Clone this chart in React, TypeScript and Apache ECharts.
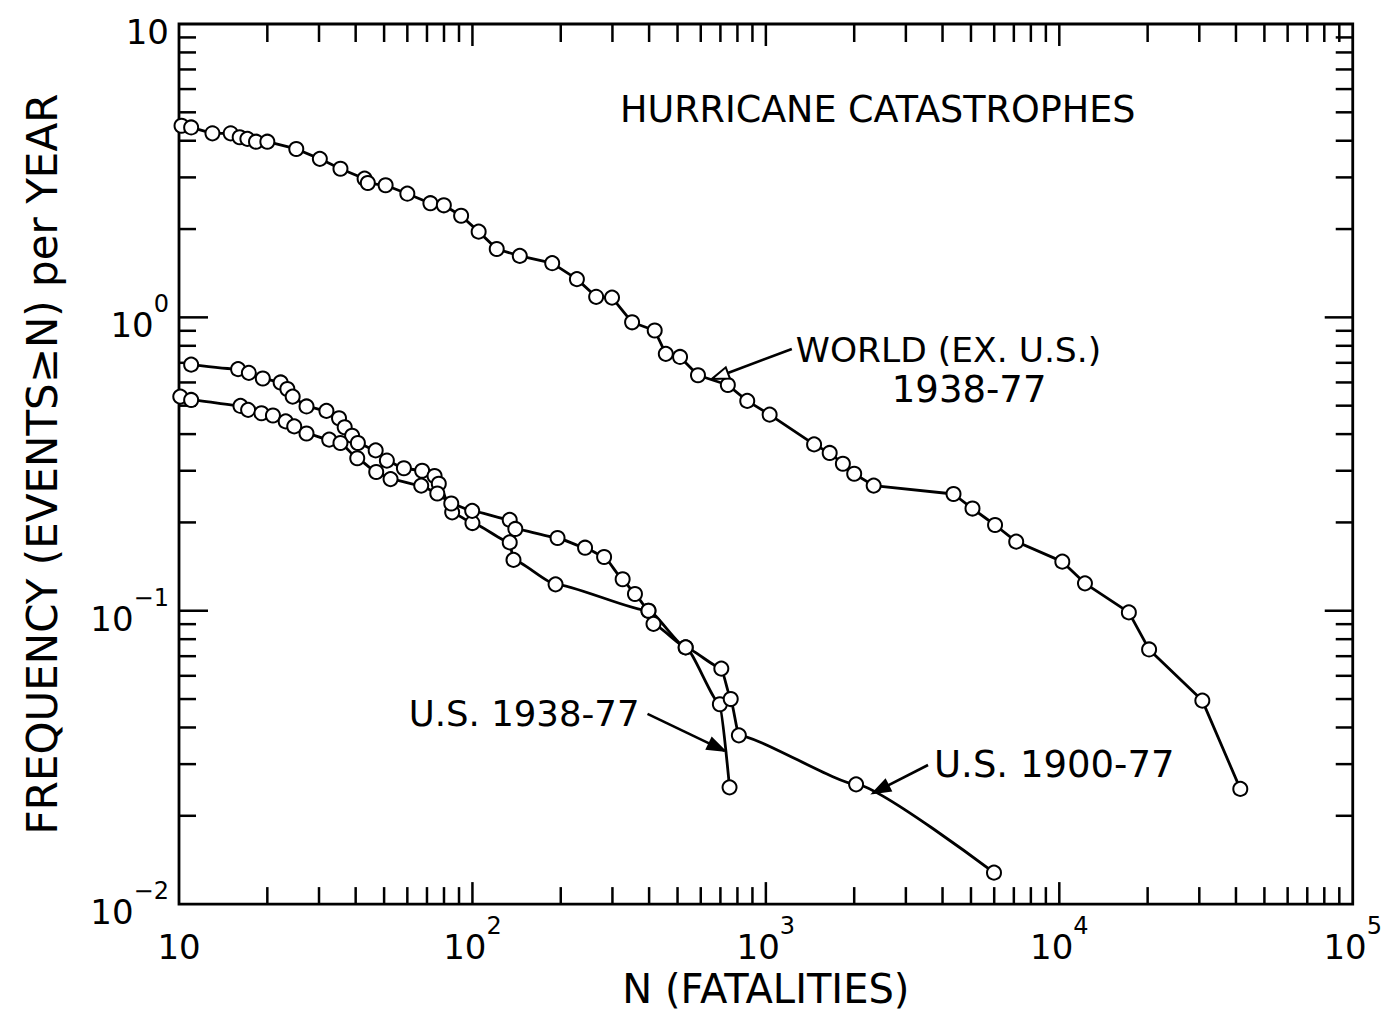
import { useEffect, useRef } from 'react';
import * as echarts from 'echarts';

const FONT = '"DejaVu Sans", "Liberation Sans", sans-serif';
const INK = '#000';

// Axis ranges (log-log)
const X_MIN = 10;
const X_MAX = 100000;
const Y_MIN = 0.01;
const Y_MAX = 10;

// Log-axis tick positions
const X_DECADES = [10, 100, 1000, 10000];
const Y_DECADES = [0.01, 0.1, 1];
const TICK_MULTIPLIERS = [2, 3, 4, 5, 6, 7, 8, 9];

// World (ex. U.S.) 1938-77: fatalities N and events >= N per year
const WORLD_N = [10.2, 11, 13, 15, 16.1, 17.1, 18.3, 20, 25.1, 30.2, 35.5, 42.9, 44, 50.6, 60, 71.9, 79.9, 91.5, 105, 121, 145, 187, 227, 264, 299, 350, 418, 456, 510, 587, 742, 864, 1030, 1460, 1650, 1830, 2000, 2330, 4360, 5060, 6040, 7130, 10240, 12230, 17260, 20230, 30720, 41380];
const WORLD_F = [4.5, 4.44, 4.24, 4.24, 4.11, 4.06, 3.97, 3.97, 3.75, 3.47, 3.21, 2.97, 2.87, 2.82, 2.64, 2.45, 2.41, 2.22, 1.96, 1.71, 1.62, 1.53, 1.35, 1.175, 1.168, 0.962, 0.902, 0.751, 0.733, 0.635, 0.588, 0.519, 0.466, 0.369, 0.345, 0.317, 0.293, 0.267, 0.25, 0.223, 0.196, 0.172, 0.147, 0.124, 0.0987, 0.0738, 0.0494, 0.0247];

// U.S. 1938-77
const US1938_N = [11, 15.9, 17.3, 19.3, 22.2, 23.4, 24.4, 27.2, 31.8, 35.1, 36.7, 38.9, 40.7, 46.8, 51.1, 58.4, 67.4, 74.3, 76.8, 85.3, 100, 134, 138, 192, 398, 533, 697, 752];
const US1938_F = [0.69, 0.666, 0.647, 0.619, 0.6, 0.57, 0.537, 0.497, 0.48, 0.453, 0.422, 0.395, 0.373, 0.352, 0.325, 0.306, 0.3, 0.288, 0.271, 0.2165, 0.199, 0.171, 0.149, 0.123, 0.1, 0.075, 0.048, 0.025];

// U.S. 1900-77
const US1900_N = [10.1, 11, 16.2, 17.2, 19.1, 20.9, 23.1, 24.7, 27.2, 32.5, 35.5, 40.5, 47, 52.6, 66.9, 75.9, 84.7, 99.8, 134, 140, 195, 242, 281, 325, 358, 398, 414, 533, 705, 759, 809, 2030, 5990];
const US1900_F = [0.537, 0.523, 0.499, 0.484, 0.471, 0.463, 0.442, 0.425, 0.402, 0.383, 0.373, 0.331, 0.297, 0.281, 0.267, 0.251, 0.232, 0.219, 0.204, 0.19, 0.177, 0.164, 0.1525, 0.128, 0.114, 0.1, 0.0902, 0.075, 0.0635, 0.05, 0.0376, 0.0256, 0.0128];

// Annotation arrows, in data coordinates [N, frequency]
const WORLD_ARROW = { tail: [1226, 0.78], tip: [655, 0.617] };
const US1938_ARROW = { tail: [395, 0.0445], tip: [724, 0.0333] };
const US1900_ARROW = { tail: [3570, 0.0298], tip: [2317, 0.0239] };

const zip = (xs: number[], ys: number[]) => xs.map((x, i) => [x, ys[i]]);

const powerLabel = (v: number) => {
  const e = Math.round(Math.log10(v));
  if (e === 1) return '{b|10}';
  const sup = e < 0 ? '\u2212' + Math.abs(e) : String(e);
  return '{b|10}{s|' + sup + '}';
};

const labelRich = {
  b: { fontFamily: FONT, fontSize: 34, color: INK, lineHeight: 50, verticalAlign: 'bottom' },
  s: { fontFamily: FONT, fontSize: 24, color: INK, lineHeight: 23, verticalAlign: 'top' },
};

const lineSeries = (name: string, xs: number[], ys: number[], smooth: number) => ({
  name,
  type: 'line',
  data: zip(xs, ys),
  symbol: 'emptyCircle',
  symbolSize: 14,
  showAllSymbol: true,
  smooth,
  smoothMonotone: 'x',
  lineStyle: { color: INK, width: 2.8 },
  itemStyle: { color: INK, borderColor: INK, borderWidth: 2.6 },
  z: 3,
});

export default function App() {
  const ref = useRef<HTMLDivElement>(null);

  useEffect(() => {
    if (!ref.current) return;
    const chart = echarts.init(ref.current, null, { renderer: 'svg' });

    const tickLine = (x1: number, y1: number, x2: number, y2: number) => ({
      type: 'line',
      shape: { x1, y1, x2, y2 },
      style: { stroke: INK, lineWidth: 2.5 },
    });

    const option: any = {
      animation: false,
      backgroundColor: '#fff',
      grid: {
        left: 179,
        top: 24,
        width: 1176,
        height: 888,
        show: true,
        borderColor: INK,
        borderWidth: 2.8,
        backgroundColor: 'transparent',
      },
      xAxis: {
        type: 'log',
        logBase: 10,
        min: X_MIN,
        max: X_MAX,
        axisLine: { show: false },
        axisTick: { show: false },
        splitLine: { show: false },
        axisLabel: { margin: 10, formatter: powerLabel, rich: labelRich },
        name: 'N (FATALITIES)',
        nameLocation: 'middle',
        nameGap: 54,
        nameTextStyle: { fontFamily: FONT, fontSize: 40, color: INK },
      },
      yAxis: {
        type: 'log',
        logBase: 10,
        min: Y_MIN,
        max: Y_MAX,
        axisLine: { show: false },
        axisTick: { show: false },
        splitLine: { show: false },
        axisLabel: { margin: 10, formatter: powerLabel, rich: labelRich },
        name: 'FREQUENCY (EVENTS\u2265N) per YEAR',
        nameLocation: 'middle',
        nameGap: 116,
        nameTextStyle: { fontFamily: FONT, fontSize: 42, color: INK },
      },
      series: [
        {
          type: 'custom',
          silent: true,
          clip: false,
          z: 1,
          data: [[X_MIN, Y_MIN]],
          renderItem: (_params: any, api: any) => {
            const [left, bottom] = api.coord([X_MIN, Y_MIN]);
            const [right, top] = api.coord([X_MAX, Y_MAX]);
            const children: any[] = [];
            X_DECADES.forEach((d, i) => {
              if (i > 0) {
                const x = api.coord([d, Y_MIN])[0];
                children.push(tickLine(x, bottom, x, bottom - 22), tickLine(x, top, x, top + 22));
              }
              TICK_MULTIPLIERS.forEach((m) => {
                const x = api.coord([m * d, Y_MIN])[0];
                children.push(tickLine(x, bottom, x, bottom - 17), tickLine(x, top, x, top + 18));
              });
            });
            Y_DECADES.forEach((d, i) => {
              if (i > 0) {
                const y = api.coord([X_MIN, d])[1];
                children.push(tickLine(left, y, left + 29, y), tickLine(right, y, right - 28, y));
              }
              TICK_MULTIPLIERS.forEach((m) => {
                const y = api.coord([X_MIN, m * d])[1];
                children.push(tickLine(left, y, left + 17, y), tickLine(right, y, right - 17, y));
              });
            });
            return { type: 'group', children };
          },
        },
        lineSeries('WORLD (EX. U.S.) 1938-77', WORLD_N, WORLD_F, 0),
        lineSeries('U.S. 1938-77', US1938_N, US1938_F, 0.18),
        lineSeries('U.S. 1900-77', US1900_N, US1900_F, 0.15),
      ],
    };

    chart.setOption(option);

    const toPx = (p: number[]) => chart.convertToPixel({ gridIndex: 0 }, p) as number[];

    const arrow = (a: { tail: number[]; tip: number[] }, filled: boolean) => {
      const s = toPx(a.tail);
      const t = toPx(a.tip);
      const dx = t[0] - s[0];
      const dy = t[1] - s[1];
      const len = Math.hypot(dx, dy);
      const ux = dx / len;
      const uy = dy / len;
      const headLen = 17;
      const halfW = 6;
      const bx = t[0] - ux * headLen;
      const by = t[1] - uy * headLen;
      const px = -uy;
      const py = ux;
      return [
        {
          type: 'line',
          shape: { x1: s[0], y1: s[1], x2: filled ? t[0] : bx, y2: filled ? t[1] : by },
          style: { stroke: INK, lineWidth: 2.6 },
          z: 10,
        },
        {
          type: 'polygon',
          shape: {
            points: [
              [t[0], t[1]],
              [bx + px * halfW, by + py * halfW],
              [bx - px * halfW, by - py * halfW],
            ],
          },
          style: { fill: filled ? INK : '#fff', stroke: INK, lineWidth: 2 },
          z: 10,
        },
      ];
    };

    const text = (str: string, x: number, y: number, size: number, align: string) => ({
      type: 'text',
      x,
      y,
      z: 10,
      style: {
        text: str,
        fontFamily: FONT,
        fontSize: size,
        fill: INK,
        align,
        textAlign: align,
        verticalAlign: 'middle',
        textVerticalAlign: 'middle',
      },
    });

    const w = toPx(WORLD_ARROW.tail);
    const u38 = toPx(US1938_ARROW.tail);
    const u00 = toPx(US1900_ARROW.tail);

    chart.setOption({
      graphic: [
        text('HURRICANE CATASTROPHES', 620, 109, 36.5, 'left'),
        ...arrow(WORLD_ARROW, false),
        text('WORLD (EX. U.S.)', w[0] + 4, w[1] + 1, 34.5, 'left'),
        text('1938-77', w[0] + 100, w[1] + 40, 37, 'left'),
        ...arrow(US1938_ARROW, true),
        text('U.S. 1938-77', u38[0] - 8, u38[1], 35.5, 'right'),
        ...arrow(US1900_ARROW, true),
        text('U.S. 1900-77', u00[0] + 6, u00[1], 37, 'left'),
      ],
    });

    return () => chart.dispose();
  }, []);

  return (
    <div
      ref={ref}
      style={{ position: 'fixed', left: 0, top: 0, width: 1385, height: 1014, background: '#fff' }}
    />
  );
}
